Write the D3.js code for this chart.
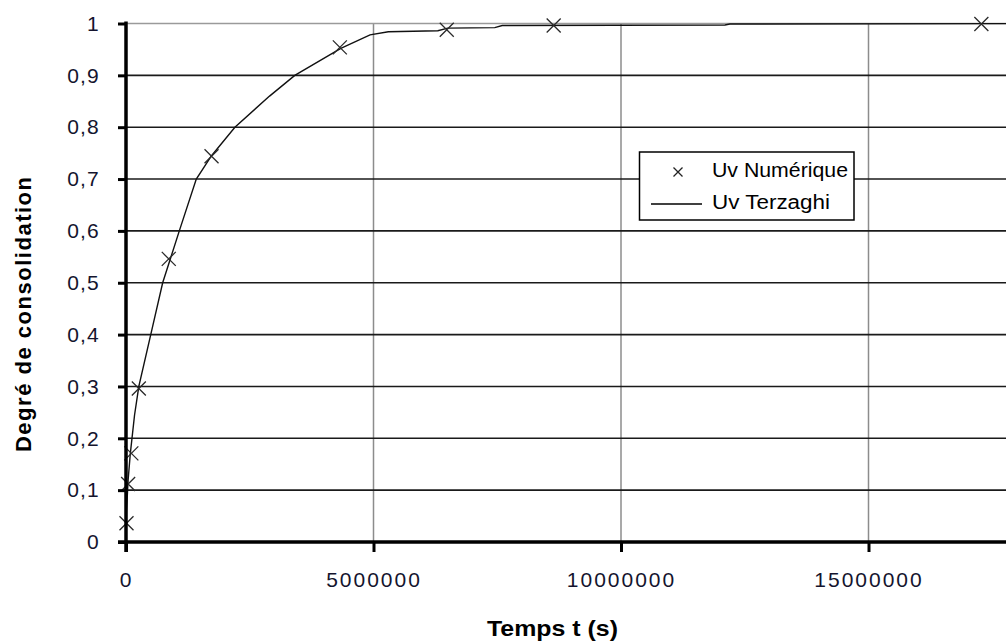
<!DOCTYPE html>
<html>
<head>
<meta charset="utf-8">
<script src="https://cdn.jsdelivr.net/npm/d3@7"></script>
<style>
  html, body { margin: 0; padding: 0; background: #fff; }
  svg { display: block; font-family: "Liberation Sans", Arial, sans-serif; }
</style>
</head>
<body>
<svg id="chart" width="1006" height="642"></svg>
<script>
// Numerical solution points (time in s, degree of consolidation)
const numTime = [10000, 43200, 108000, 259200, 864000, 1728000, 4320000, 6480000, 8640000, 17280000];
const numU    = [0.036, 0.112, 0.171, 0.296, 0.546, 0.744, 0.954, 0.988, 0.996, 0.999];

// Terzaghi analytical curve
const terzTime = [0, 10000, 43200, 86400, 172800, 259200, 500000, 741000, 1077000, 1420000,
                  1728000, 2200000, 2900000, 3410000, 4340000, 4930000, 5300000, 6300000,
                  6500000, 7450000, 7600000, 12100000, 12200000, 20000000];
const terzU    = [0, 0.06, 0.12, 0.17, 0.245, 0.30, 0.40, 0.50, 0.60, 0.70,
                  0.745, 0.80, 0.86, 0.90, 0.952, 0.978, 0.984, 0.986,
                  0.991, 0.992, 0.996, 0.997, 0.999, 1.0];

// Axis ticks and labels (the axis runs to 20 000 000 s, past the right edge)
const xMax = 20000000;
const xTicks = [0, 5000000, 10000000, 15000000];
const xTickLabels = ["0", "5000000", "10000000", "15000000"];
const yTicks = [0, 0.1, 0.2, 0.3, 0.4, 0.5, 0.6, 0.7, 0.8, 0.9, 1];
const yTickLabels = ["0", "0,1", "0,2", "0,3", "0,4", "0,5", "0,6", "0,7", "0,8", "0,9", "1"];

const seriesNames = ["Uv Numérique", "Uv Terzaghi"];
const xTitle = "Temps t (s)";
const yTitle = "Degré de consolidation";

const svg = d3.select("#chart");
const W = 1006, H = 642;

const x = d3.scaleLinear().domain([0, xMax]).range([126, 1116]);
const y = d3.scaleLinear().domain([0, 1]).range([542, 23.5]);

const plot = svg.append("g");

// vertical gridlines (grey)
plot.selectAll("line.vgrid").data(xTicks.slice(1)).join("line")
  .attr("class", "vgrid")
  .attr("x1", d => x(d)).attr("x2", d => x(d))
  .attr("y1", y(1)).attr("y2", y(0))
  .attr("stroke", "#8c8c8c").attr("stroke-width", 1.5);

// horizontal gridlines (black)
plot.selectAll("line.hgrid").data(yTicks.slice(1, -1)).join("line")
  .attr("class", "hgrid")
  .attr("x1", x(0)).attr("x2", x(xMax))
  .attr("y1", d => y(d)).attr("y2", d => y(d))
  .attr("stroke", "#1a1a1a").attr("stroke-width", 1.6);

// plot area top border (grey)
plot.append("line")
  .attr("x1", x(0)).attr("x2", x(xMax))
  .attr("y1", y(1)).attr("y2", y(1))
  .attr("stroke", "#9a9a9a").attr("stroke-width", 1.6);

// Terzaghi curve
const line = d3.line().x((d, i) => x(terzTime[i])).y((d, i) => y(terzU[i]));
plot.append("path")
  .datum(terzTime)
  .attr("d", line)
  .attr("fill", "none")
  .attr("stroke", "#111")
  .attr("stroke-width", 1.4);

// numerical points as crosses
const cross = (cx, cy, s) => `M${cx - s},${cy - s}L${cx + s},${cy + s}M${cx - s},${cy + s}L${cx + s},${cy - s}`;
plot.selectAll("path.pt").data(numTime).join("path")
  .attr("class", "pt")
  .attr("d", (d, i) => cross(x(d), y(numU[i]), 7))
  .attr("stroke", "#2a2a2a").attr("stroke-width", 1.3).attr("fill", "none");

// axes
const fontSize = 21;
const yAxis = d3.axisLeft(y).tickValues(yTicks)
  .tickFormat((d, i) => yTickLabels[i]).tickSize(8).tickSizeOuter(0).tickPadding(18);
const gy = svg.append("g").attr("transform", `translate(${x(0)},0)`).call(yAxis);
gy.select(".domain").remove();
gy.selectAll(".tick line").attr("stroke", "#000").attr("stroke-width", 3);
gy.selectAll(".tick text").attr("font-size", fontSize).attr("fill", "#14142e")
  .attr("font-family", "Liberation Sans, Arial, sans-serif")
  .attr("letter-spacing", 1.2);

const xAxis = d3.axisBottom(x).tickValues(xTicks)
  .tickFormat((d, i) => xTickLabels[i]).tickSize(10).tickSizeOuter(0).tickPadding(20);
const gx = svg.append("g").attr("transform", `translate(0,${y(0)})`).call(xAxis);
gx.select(".domain").remove();
gx.selectAll(".tick line").attr("stroke", "#000").attr("stroke-width", 3);
gx.selectAll(".tick text").attr("font-size", fontSize).attr("fill", "#14142e")
  .attr("font-family", "Liberation Sans, Arial, sans-serif")
  .attr("letter-spacing", 2);

// axis lines
svg.append("line").attr("x1", x(0)).attr("x2", x(0)).attr("y1", y(1) - 2).attr("y2", y(0) + 10)
  .attr("stroke", "#000").attr("stroke-width", 3.5);
svg.append("line").attr("x1", x(0) - 8).attr("x2", W).attr("y1", y(0)).attr("y2", y(0))
  .attr("stroke", "#000").attr("stroke-width", 3.5);

// axis titles
svg.append("text")
  .attr("x", 487).attr("y", 636)
  .attr("font-size", 22).attr("font-weight", "bold").attr("fill", "#000")
  .attr("textLength", 131).attr("lengthAdjust", "spacingAndGlyphs")
  .text(xTitle);

svg.append("text")
  .attr("transform", "translate(31,452) rotate(-90)")
  .attr("font-size", 22).attr("font-weight", "bold").attr("fill", "#000")
  .attr("textLength", 275).attr("lengthAdjust", "spacing")
  .text(yTitle);

// legend
const lg = svg.append("g");
lg.append("rect")
  .attr("x", 639.5).attr("y", 152).attr("width", 214.5).attr("height", 68)
  .attr("fill", "#fff").attr("stroke", "#000").attr("stroke-width", 1.5);
lg.append("path").attr("d", cross(678, 172, 4.5))
  .attr("stroke", "#222").attr("stroke-width", 1.3).attr("fill", "none");
lg.append("line").attr("x1", 651).attr("x2", 702).attr("y1", 204).attr("y2", 204)
  .attr("stroke", "#000").attr("stroke-width", 1.4);
lg.append("text").attr("x", 712).attr("y", 177)
  .attr("font-size", 20).attr("fill", "#000")
  .attr("textLength", 136).attr("lengthAdjust", "spacingAndGlyphs")
  .text(seriesNames[0]);
lg.append("text").attr("x", 712).attr("y", 209)
  .attr("font-size", 20).attr("fill", "#000")
  .attr("textLength", 118).attr("lengthAdjust", "spacingAndGlyphs")
  .text(seriesNames[1]);
</script>
</body>
</html>
